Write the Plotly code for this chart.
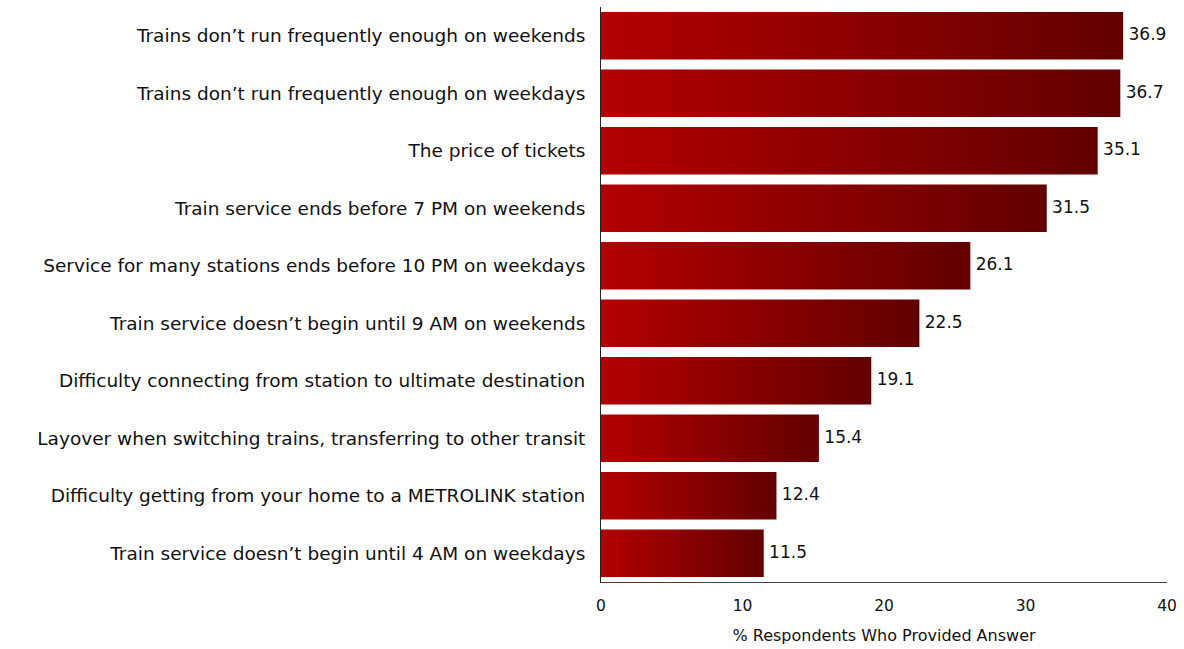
import plotly.graph_objects as go

labels = [
    "Trains don’t run frequently enough on weekends",
    "Trains don’t run frequently enough on weekdays",
    "The price of tickets",
    "Train service ends before 7 PM on weekends",
    "Service for many stations ends before 10 PM on weekdays",
    "Train service doesn’t begin until 9 AM on weekends",
    "Difficulty connecting from station to ultimate destination",
    "Layover when switching trains, transferring to other transit",
    "Difficulty getting from your home to a METROLINK station",
    "Train service doesn’t begin until 4 AM on weekdays",
]
values = [36.9, 36.7, 35.1, 31.5, 26.1, 22.5, 19.1, 15.4, 12.4, 11.5]

FONT = "DejaVu Sans"
half = 0.415  # half bar thickness in category units

fig = go.Figure()
for i, v in enumerate(values):
    # each bar is a filled rectangle so it can carry a left->right gradient
    fig.add_trace(go.Scatter(
        x=[0, v, v, 0, 0],
        y=[i - half, i - half, i + half, i + half, i - half],
        mode="lines", line=dict(width=0), fill="toself",
        fillgradient=dict(type="horizontal",
                          colorscale=[[0, "#b30000"], [1, "#620000"]]),
        hoverinfo="skip", showlegend=False,
    ))

fig.add_trace(go.Scatter(
    x=values, y=list(range(len(values))), mode="text",
    text=[f" {v:.1f}" for v in values], textposition="middle right",
    textfont=dict(family=FONT, size=17, color="#111"), cliponaxis=False,
    showlegend=False, hoverinfo="skip",
))

fig.update_layout(
    width=1184, height=649,
    margin=dict(l=601, r=16, t=7, b=65),
    plot_bgcolor="white", paper_bgcolor="white",
    font=dict(family=FONT, color="#111"),
)
fig.update_xaxes(
    range=[0, 40], tickvals=[0, 10, 20, 30, 40], showgrid=False, zeroline=False,
    showline=True, linecolor="#444", linewidth=1, ticks="",
    tickfont=dict(size=15.5), ticklabelstandoff=9,
    title=dict(text="% Respondents Who Provided Answer", font=dict(size=16), standoff=16),
)
fig.update_yaxes(
    range=[9.5, -0.5], tickvals=list(range(len(labels))), ticktext=labels,
    showgrid=False, zeroline=False, showline=True, linecolor="#222", linewidth=1,
    ticks="", tickfont=dict(size=18.5), ticklabelstandoff=11,
)

fig.write_html("out.html", config={"displayModeBar": False},
               post_script="document.body.style.margin='0';")
